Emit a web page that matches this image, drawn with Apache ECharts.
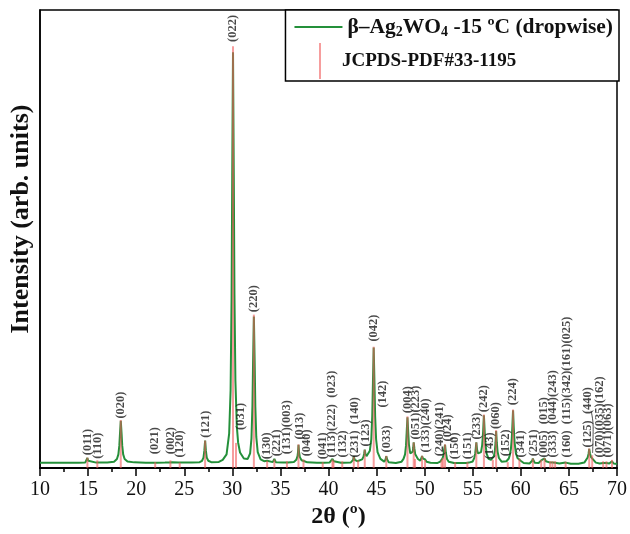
<!DOCTYPE html>
<html>
<head>
<meta charset="utf-8">
<script src="https://cdn.jsdelivr.net/npm/echarts@6/dist/echarts.min.js"></script>
<style>
  html, body { margin: 0; padding: 0; background: #fff; }
  #chart { width: 630px; height: 534px; }
</style>
</head>
<body>
<div id="chart"></div>
<script>
// ---- Data ----
// Measured XRD pattern (2θ in degrees, intensity in arb. units, 0..100 scale)
const xrdCurve = [
  [10.0, 1.15], [12.0, 1.15], [14.0, 1.15],
  [14.7, 1.2], [14.85, 1.6], [14.93, 2.2], [15.01, 1.6], [15.2, 1.2],
  [15.85, 1.2], [15.96, 1.4], [16.08, 1.2],
  [17.0, 1.2], [17.7, 1.4],
  [18.0, 2.0], [18.15, 3.0], [18.25, 4.9], [18.32, 7.6], [18.40, 10.3], [18.48, 7.6], [18.55, 4.9], [18.65, 3.0], [18.8, 2.0], [19.1, 1.45], [19.8, 1.25],
  [21.0, 1.15], [21.8, 1.18], [21.98, 1.45], [22.15, 1.18],
  [23.0, 1.2], [23.4, 1.22], [23.56, 1.6], [23.72, 1.25],
  [24.4, 1.22], [24.53, 1.35], [24.68, 1.22],
  [25.8, 1.2], [26.6, 1.3], [26.85, 1.6], [27.0, 2.3], [27.09, 3.8], [27.17, 6.0], [27.25, 3.8], [27.34, 2.3], [27.5, 1.6], [27.8, 1.3],
  [28.6, 1.35], [29.0, 1.8], [29.4, 3.0], [29.67, 7.5], [29.82, 17.0], [29.92, 37.0], [29.99, 64.0], [30.07, 90.8], [30.15, 64.0], [30.22, 38.0], [30.32, 19.0], [30.47, 9.0], [30.6, 5.6], [30.8, 3.4], [31.2, 2.1],
  [31.6, 2.0], [31.85, 3.2], [31.99, 6.5], [32.09, 13.5], [32.16, 23.5], [32.24, 33.1], [32.32, 23.5], [32.39, 13.5], [32.49, 6.8], [32.64, 3.5], [32.94, 1.9], [33.3, 1.5],
  [33.5, 1.4], [33.62, 1.6], [33.75, 1.4],
  [34.2, 1.3], [34.37, 2.0], [34.52, 1.3],
  [35.3, 1.2], [35.55, 1.2], [35.68, 1.45], [35.8, 1.22],
  [36.4, 1.35], [36.65, 1.8], [36.78, 2.6], [36.83, 3.5], [36.88, 5.1], [36.94, 3.5], [37.02, 2.4], [37.2, 1.7], [37.33, 1.75], [37.40, 1.85], [37.5, 1.5], [37.8, 1.25],
  [38.8, 1.15], [39.28, 1.15], [39.40, 1.3], [39.52, 1.15],
  [40.1, 1.2], [40.28, 1.3], [40.41, 2.0], [40.55, 1.5], [40.7, 1.25],
  [41.3, 1.15], [41.43, 1.45], [41.56, 1.15],
  [42.3, 1.2], [42.48, 1.35], [42.56, 1.8], [42.63, 2.6], [42.72, 1.8], [42.85, 1.4], [43.0, 1.5], [43.08, 1.8], [43.2, 1.6],
  [43.5, 1.9], [43.64, 2.5], [43.71, 3.2], [43.77, 4.0], [43.84, 3.1], [43.95, 2.6], [44.1, 2.9],
  [44.3, 3.8], [44.45, 6.3], [44.55, 11.3], [44.62, 18.5], [44.70, 26.3], [44.78, 18.5], [44.85, 11.3], [44.95, 6.3], [45.1, 3.5], [45.4, 2.0],
  [45.8, 1.4], [45.93, 1.9], [46.01, 2.6], [46.1, 1.9], [46.25, 1.3],
  [47.0, 1.1], [47.6, 1.4],
  [47.8, 2.0], [47.96, 3.0], [48.06, 4.9], [48.13, 7.8], [48.21, 11.1], [48.29, 7.8], [48.36, 5.2],
  [48.5, 3.2], [48.66, 3.0], [48.76, 3.6], [48.81, 4.5], [48.86, 5.6], [48.93, 4.3], [49.02, 3.0], [49.1, 2.6], [49.3, 2.0],
  [49.55, 1.6], [49.65, 2.0], [49.73, 2.6], [49.82, 2.1], [49.95, 1.9], [50.04, 1.9], [50.2, 1.4], [50.6, 1.15],
  [51.3, 1.1], [51.62, 1.4], [51.75, 1.8], [51.85, 2.1], [51.95, 2.8], [52.02, 4.0], [52.12, 5.1], [52.2, 3.4], [52.32, 2.0], [52.5, 1.4],
  [53.05, 1.1], [53.17, 1.3], [53.3, 1.1],
  [54.3, 1.1], [54.44, 1.35], [54.6, 1.2],
  [55.0, 1.45], [55.15, 2.2], [55.25, 3.1], [55.31, 4.2], [55.37, 5.6], [55.45, 4.0], [55.55, 3.2],
  [55.7, 3.0], [55.86, 3.5], [55.98, 5.0], [56.08, 8.0], [56.16, 11.5], [56.24, 8.0], [56.33, 5.0], [56.45, 3.1], [56.65, 2.0], [56.9, 1.8],
  [57.09, 2.0], [57.2, 2.6], [57.3, 3.8], [57.37, 5.6], [57.43, 8.1], [57.5, 5.6], [57.58, 3.6], [57.72, 2.2], [58.0, 1.4],
  [58.5, 1.5], [58.64, 1.8], [58.75, 2.1],
  [58.85, 2.8], [58.97, 4.2], [59.06, 6.5], [59.12, 9.2], [59.19, 12.6], [59.26, 9.0], [59.35, 5.6], [59.48, 3.3],
  [59.65, 2.2], [59.75, 2.1], [59.85, 2.3], [59.98, 1.6], [60.3, 1.1],
  [60.9, 1.0], [61.1, 1.2], [61.18, 1.6], [61.25, 2.1], [61.33, 1.6], [61.45, 1.15],
  [61.85, 1.1], [62.12, 1.7], [62.28, 1.6], [62.46, 2.1], [62.6, 1.5], [62.8, 1.15],
  [63.05, 1.2], [63.29, 1.2], [63.57, 1.15], [64.0, 1.0],
  [64.66, 1.2], [65.2, 0.95], [66.0, 0.95], [66.6, 1.2],
  [66.8, 1.6], [66.95, 2.3], [67.04, 3.1], [67.11, 4.2], [67.19, 3.2], [67.3, 2.4], [67.42, 2.8], [67.55, 1.8], [67.8, 1.2],
  [68.2, 1.0], [68.56, 1.1], [68.9, 1.1], [69.2, 1.0], [69.48, 1.5], [69.65, 1.0], [70.0, 0.9]
];

// JCPDS-PDF#33-1195 reference lines (2θ, relative height on the same scale)
const refSticks = [
  [14.93, 2.3], [15.96, 1.7], [18.40, 10.5], [21.98, 1.3], [23.56, 1.7], [24.53, 1.2],
  [27.17, 6.0], [30.07, 92.1], [30.38, 5.5], [32.24, 33.5], [33.62, 1.6], [34.37, 1.9],
  [35.68, 1.5], [36.88, 5.2], [37.40, 1.9], [39.40, 1.3], [40.41, 1.9], [40.52, 1.6],
  [41.43, 1.5], [42.63, 2.5], [43.08, 1.7], [43.77, 4.0], [44.70, 26.5], [46.01, 2.7],
  [48.21, 11.3], [48.86, 5.6], [49.0, 2.0], [49.73, 2.7], [50.04, 1.8], [51.75, 1.8],
  [51.9, 2.2], [52.12, 5.2], [53.17, 1.3], [54.44, 1.3], [55.37, 5.6], [56.16, 11.7],
  [57.09, 1.8], [57.43, 8.3], [58.64, 1.3], [59.19, 12.8], [59.85, 2.1], [61.25, 2.1],
  [62.12, 1.8], [62.46, 2.2], [63.05, 1.5], [63.29, 1.5], [63.57, 1.5], [64.66, 1.4],
  [67.11, 4.3], [67.42, 2.8], [68.56, 1.5], [68.9, 1.5], [69.48, 1.8]
];

// Miller-index annotations: text, 2θ position, height where the label starts
const hklText = [
  '(011)', '(110)', '(020)', '(021)', '(002)', '(120)', '(121)', '(022)', '(031)', '(220)',
  '(130)', '(221)', '(131)(003)', '(013)', '(040)', '(041)', '(113)(222)  (023)', '(132)',
  '(231)  (140)', '(123)', '(042)', '(142)', '(033)', '(004)', '(051)(223)', '(133)(240)',
  '(240)(241)', '(024)', '(150)', '(151)', '(233)', '(242)', '(143)', '(060)', '(152)',
  '(224)', '(341)', '(251)', '(005)  (015)', '(333)  (044)(243)', '(160)  (115)(342)(161)(025)',
  '(125)  (440)', '(070)(035)(162)', '(071)(063)'
];
const hklAngle = [
  14.93, 15.96, 18.40, 21.98, 23.56, 24.53, 27.2, 30.07, 30.86, 32.24,
  33.55, 34.58, 35.68, 36.98, 37.75, 39.4, 40.39, 41.53,
  42.74, 43.87, 44.75, 45.62, 46.01, 48.21, 49.11, 50.14,
  51.52, 52.37, 53.17, 54.44, 55.37, 56.16, 56.8, 57.43, 58.4,
  59.19, 59.95, 61.33, 62.36, 63.32, 64.77,
  66.93, 68.21, 69.07
];
const hklLift = [
  2.6, 1.8, 10.6, 2.8, 2.8, 2.1, 6.4, 92.8, 8.1, 33.8,
  1.7, 2.35, 2.8, 6.0, 2.35, 1.7, 2.1, 2.1,
  2.1, 4.5, 27.4, 13.0, 3.2, 11.75, 6.0, 3.2,
  2.35, 5.6, 1.7, 1.7, 6.0, 12.0, 1.7, 8.3, 2.35,
  13.5, 2.1, 2.35, 2.1, 2.1, 2.1,
  4.3, 2.1, 2.1
];
// leader from the (440) label to its peak
const leaderLine = [[67.3, 12.5], [67.52, 9.0], [67.46, 3.3]];

const xTicks = { min: 10, max: 70, step: 5 };

const serif = "'Liberation Serif', 'Times New Roman', serif";
const green = '#24903a';
const red = '#f05c5c';

const labelData = hklText.map((t, i) => [hklAngle[i], hklLift[i], t]);

const chart = echarts.init(document.getElementById('chart'), null, { renderer: 'canvas' });
chart.setOption({
  animation: false,
  backgroundColor: '#fff',
  grid: { left: 38, right: 11, top: 10, bottom: 56, show: true, borderColor: '#000', borderWidth: 1.5, backgroundColor: 'transparent' },
  xAxis: {
    type: 'value', min: xTicks.min, max: xTicks.max, interval: xTicks.step,
    axisLine: { show: true, onZero: false, lineStyle: { color: '#000', width: 2 } },
    axisTick: { show: true, inside: false, length: 8, lineStyle: { color: '#000', width: 1.5 } },
    minorTick: { show: true, splitNumber: 2, length: 4, lineStyle: { color: '#000', width: 1.5 } },
    splitLine: { show: false },
    axisLabel: { fontFamily: serif, fontSize: 20, color: '#111', margin: 12 },
    name: '2θ (º)', nameLocation: 'middle', nameGap: 34,
    nameTextStyle: { fontFamily: serif, fontSize: 24, fontWeight: 'bold', color: '#111', padding: [0, 0, 0, 20] }
  },
  yAxis: {
    type: 'value', min: 0, max: 100,
    axisLine: { show: true, lineStyle: { color: '#000', width: 1.5 } },
    axisTick: { show: false }, axisLabel: { show: false }, splitLine: { show: false },
    name: 'Intensity (arb. units)', nameLocation: 'middle', nameGap: 6,
    nameTextStyle: { fontFamily: serif, fontSize: 26, fontWeight: 'bold', color: '#111', padding: [0, 0, 0, 40] }
  },
  legend: [
    {
      data: [{ name: 'beta', icon: 'rect' }],
      right: 11, top: 10, orient: 'vertical',
      itemWidth: 48, itemHeight: 2,
      padding: [6, 6, 42, 9],
      borderColor: '#000', borderWidth: 1.5, backgroundColor: '#fff',
      z: 4,
      formatter: () => '{t|β–Ag}{s|2}{t|WO}{s|4}{t| -15 ºC (dropwise)}',
      textStyle: {
        fontFamily: serif, fontWeight: 'bold', color: '#111',
        rich: {
          t: { fontFamily: serif, fontWeight: 'bold', fontSize: 21.5, lineHeight: 24, color: '#111' },
          s: { fontFamily: serif, fontWeight: 'bold', fontSize: 14, lineHeight: 14, verticalAlign: 'bottom', color: '#111' }
        }
      }
    },
    {
      data: [{ name: 'JCPDS-PDF#33-1195', icon: 'rect' }],
      left: 319, top: 43, orient: 'vertical',
      itemWidth: 2, itemHeight: 36, padding: 0, z: 6,
      textStyle: { fontFamily: serif, fontWeight: 'bold', fontSize: 19, color: '#111', padding: [0, 0, 0, 16] }
    }
  ],
  series: [
    {
      name: 'beta', type: 'line', data: xrdCurve, showSymbol: false, symbol: 'none',
      lineStyle: { color: green, width: 2 }, itemStyle: { color: green }, z: 2
    },
    {
      name: 'JCPDS-PDF#33-1195', type: 'bar', data: refSticks, barWidth: 2,
      itemStyle: { color: red, opacity: 0.6 }, z: 3
    },
    {
      name: 'hkl', type: 'scatter', data: labelData, symbolSize: 0, z: 5, silent: true,
      itemStyle: { color: 'rgba(0,0,0,0)' },
      label: {
        show: true, formatter: p => p.data[2], position: 'top', distance: 1,
        rotate: 90, align: 'left', verticalAlign: 'middle',
        fontFamily: serif, fontWeight: 'bold', fontSize: 12.5, color: '#1a1a1a'
      }
    },
    {
      name: 'leader', type: 'line', data: leaderLine, smooth: true, showSymbol: false, symbol: 'none', silent: true,
      lineStyle: { color: '#222', width: 0.8 }, z: 5
    }
  ]
});
</script>
</body>
</html>
